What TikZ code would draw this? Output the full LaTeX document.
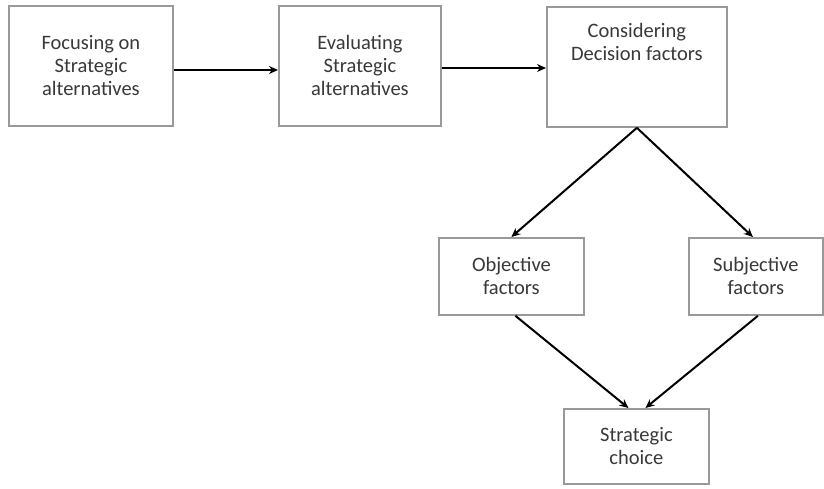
\documentclass[tikz,border=0pt]{standalone}
\usepackage{fontspec}
\setmainfont{Carlito}
\usetikzlibrary{arrows.meta,calc}
\begin{document}
\begin{tikzpicture}[x=1pt,y=-1pt,
  box/.style={draw=gray!80, line width=1.8pt, fill=white, inner sep=0pt, anchor=north west},
  lbl/.style={text=gray!45!black, font=\fontsize{20.5}{23}\selectfont, align=center},
  conn/.style={line width=2pt, -{Stealth[length=9pt,width=8pt]}}]
\useasboundingbox (0,0) rectangle (824,488);
\node[box, minimum width=164pt, minimum height=120pt] (a) at (8,5) {};
\node[lbl] (at) at (a.center) {Focusing on\\Strategic\\alternatives};
\node[box, minimum width=162pt, minimum height=120pt] (b) at (278,5) {};
\node[lbl] (bt) at (b.center) {Evaluating\\Strategic\\alternatives};
\node[box, minimum width=180pt, minimum height=120pt] (c) at (546,6) {};
\node[lbl, anchor=north] (ct) at ($(c.north)+(0,14)$) {Considering\\Decision factors};
\node[box, minimum width=145pt, minimum height=77pt] (o) at (438,237) {};
\node[lbl] (ot) at (o.center) {Objective\\factors};
\node[box, minimum width=134pt, minimum height=77pt] (s) at (688,237) {};
\node[lbl] (st) at (s.center) {Subjective\\factors};
\node[box, minimum width=145pt, minimum height=75pt] (d) at (563,408) {};
\node[lbl] (dt) at (d.center) {Strategic\\choice};
\draw[conn] (a.east |- 0,70) -- (b.west |- 0,70);
\draw[conn] (b.east |- 0,68) -- (c.west |- 0,68);
\draw[conn] (c.south) -- (o.north);
\draw[conn] (c.south) -- ($(s.north)+(-3,0)$);
\draw[conn] ($(o.south)+(4,0)$) -- ($(d.north)+(-8,0)$);
\draw[conn] ($(s.south)+(2,0)$) -- ($(d.north)+(9,0)$);
\end{tikzpicture}
\end{document}
